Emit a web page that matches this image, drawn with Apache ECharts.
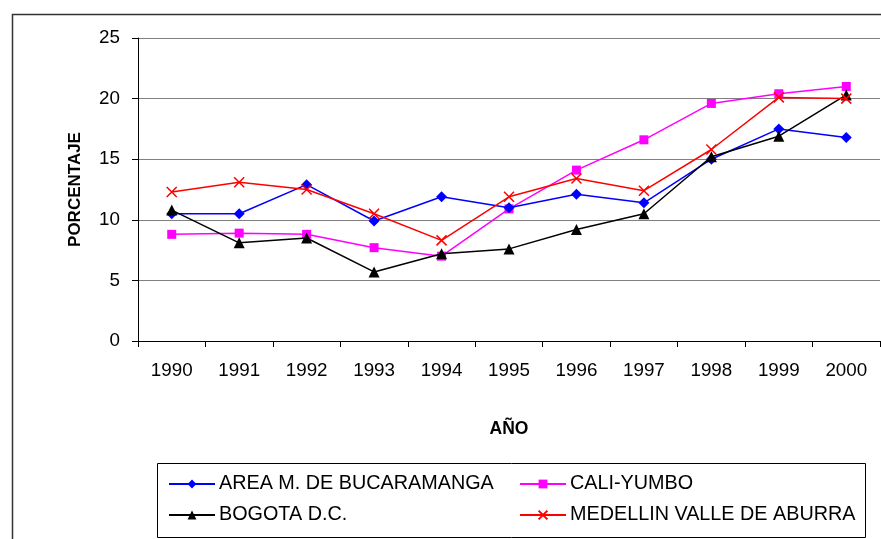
<!DOCTYPE html>
<html>
<head>
<meta charset="utf-8">
<script src="https://cdn.jsdelivr.net/npm/echarts@6/dist/echarts.min.js"></script>
<style>html,body{margin:0;padding:0;background:#fff}#c{width:881px;height:539px}</style>
</head>
<body>
<div id="c"></div>
<script>
const years = ['1990','1991','1992','1993','1994','1995','1996','1997','1998','1999','2000'];
const bucaramanga = [10.5, 10.5, 12.9, 9.9, 11.9, 11.0, 12.1, 11.4, 15.0, 17.5, 16.8];
const caliYumbo   = [8.8, 8.9, 8.8, 7.7, 7.0, 10.9, 14.1, 16.6, 19.6, 20.4, 21.0];
const bogota      = [10.8, 8.1, 8.5, 5.7, 7.2, 7.6, 9.2, 10.5, 15.2, 16.9, 20.3];
const medellin    = [12.3, 13.1, 12.5, 10.5, 8.3, 11.9, 13.4, 12.4, 15.8, 20.1, 20.0];
const yTicks = [0, 5, 10, 15, 20, 25];

const FONT = 'Liberation Sans, Arial, sans-serif';
const names = ['AREA M. DE BUCARAMANGA','CALI-YUMBO','BOGOTA D.C.','MEDELLIN VALLE DE ABURRA'];
const crossPath = 'path://M0,0L10,10M10,0L0,10';

const chart = echarts.init(document.getElementById('c'), null, {renderer:'canvas'});

function legendAt(name, left, top) {
  return {
    data: [name], left: left, top: top, orient: 'horizontal',
    itemWidth: 46, itemHeight: 11, itemGap: 0,
    textStyle: {fontFamily: FONT, fontSize: 19.8, lineHeight: 20, color: '#000', padding: [0,0,0,-1]},
    selectedMode: false, padding: 0
  };
}

const option = {
  backgroundColor: '#fff',
  animation: false,
  textStyle: {fontFamily: FONT},
  grid: {left: 138, top: 38, right: 1, bottom: 198, containLabel: false},
  xAxis: {
    type: 'category', data: years, boundaryGap: true,
    axisLine: {lineStyle: {color: '#000', width: 1}},
    axisTick: {show: true, length: 6, lineStyle: {color: '#000'}},
    axisLabel: {fontSize: 18.8, color: '#000', margin: 20, fontFamily: FONT},
    name: 'AÑO', nameLocation: 'middle', nameGap: 79,
    nameTextStyle: {fontSize: 17.5, fontWeight: 'bold', color: '#000', fontFamily: FONT}
  },
  yAxis: {
    type: 'value', min: yTicks[0], max: yTicks[yTicks.length-1], interval: 5,
    axisLine: {show: true, lineStyle: {color: '#000', width: 1}},
    axisTick: {show: true, length: 6, lineStyle: {color: '#000'}},
    axisLabel: {fontSize: 18.8, color: '#000', margin: 18, fontFamily: FONT},
    splitLine: {show: true, lineStyle: {color: '#808080', width: 1.2}},
    name: 'PORCENTAJE', nameLocation: 'middle', nameGap: 54, nameRotate: 90,
    nameTextStyle: {fontSize: 17, fontWeight: 'bold', color: '#000', fontFamily: FONT}
  },
  legend: [
    legendAt(names[0], 168, 474),
    legendAt(names[1], 519, 474),
    legendAt(names[2], 168, 505),
    legendAt(names[3], 519, 505)
  ],
  graphic: [
    {type: 'rect', left: 10, top: 12, shape: {width: 900, height: 600}, silent: true, z: -10,
     style: {fill: 'none', stroke: '#333', lineWidth: 1.5}},
    {type: 'rect', left: 157, top: 463, shape: {width: 708, height: 74}, silent: true, z: -5,
     style: {fill: '#fff', stroke: '#000', lineWidth: 1}}
  ],
  series: [
    {name: names[0], type: 'line', data: bucaramanga, symbol: 'diamond', symbolSize: 11,
     lineStyle: {color: '#0000ff', width: 1.5}, itemStyle: {color: '#0000ff'}, z: 3},
    {name: names[1], type: 'line', data: caliYumbo, symbol: 'rect', symbolSize: 9,
     lineStyle: {color: '#ff00ff', width: 1.5}, itemStyle: {color: '#ff00ff'}, z: 2},
    {name: names[2], type: 'line', data: bogota, symbol: 'triangle', symbolSize: 11,
     lineStyle: {color: '#000000', width: 1.5}, itemStyle: {color: '#000000'}, z: 4},
    {name: names[3], type: 'line', data: medellin, symbol: crossPath, symbolSize: 10,
     lineStyle: {color: '#ff0000', width: 1.5},
     itemStyle: {color: '#ff0000', borderColor: '#ff0000', borderWidth: 1.5}, z: 5}
  ]
};
chart.setOption(option);
</script>
</body>
</html>
